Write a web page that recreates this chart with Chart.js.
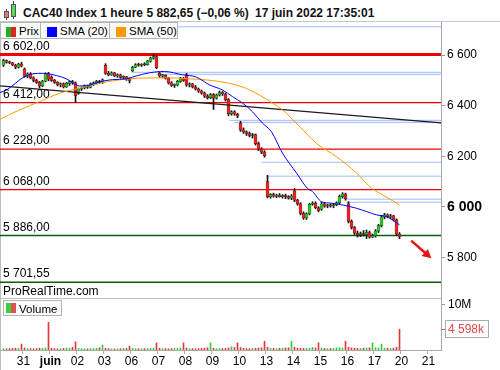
<!DOCTYPE html>
<html>
<head>
<meta charset="utf-8">
<script src="https://cdn.jsdelivr.net/npm/chart.js@4.4.1/dist/chart.umd.min.js"></script>
<style>
  body { margin: 0; background: #fff; font-family: "Liberation Sans", Arial, sans-serif; }
  #wrap { position: relative; width: 500px; height: 370px; overflow: hidden; background: #fff; }
  .abs { position: absolute; }
  #title { left: 0; top: 0; width: 500px; height: 21px; border-bottom: 1px solid #c8c8c8; }
  .t { position: absolute; top: 7px; font-weight: bold; font-size: 12px; line-height: 12px; white-space: nowrap; color: #111; }
  .lg { position: absolute; top: 22px; background: #fafafa; border: 1px solid #b4b4b4; box-sizing: border-box; height: 17px; }
  .lg span { position: absolute; top: 2px; font-size: 11.5px; line-height: 12px; white-space: nowrap; }
  .sq { position: absolute; top: 4px; width: 10px; height: 10px; }
  canvas { position: absolute; left: 0; }
</style>
</head>
<body>
<div id="wrap">
  <div id="title" class="abs">
    <div class="abs" style="left:6px;top:9px;width:1px;height:11px;background:#444"></div>
    <div class="abs" style="left:4px;top:11px;width:3px;height:5px;background:#f07474;border:1px solid #555"></div>
    <div class="abs" style="left:13px;top:1px;width:1px;height:18px;background:#444"></div>
    <div class="abs" style="left:11px;top:4px;width:3px;height:11px;background:#5ad85a;border:1px solid #555"></div>
    <span class="t" style="left:23px">CAC40 Index 1 heure 5 882,65 (−0,06 %)</span>
    <span class="t" style="left:255px">17 juin 2022 17:35:01</span>
  </div>
  <div class="abs" style="left:0;top:22px;width:1px;height:348px;background:#bdbdbd"></div>
  <canvas id="price" width="500" height="276" style="top:22px"></canvas>
  <canvas id="vol" width="500" height="72" style="top:298px"></canvas>
  <div class="abs" style="left:0;top:298px;width:441px;height:1px;background:#bdbdbd"></div>

  <div class="lg" style="left:0;width:41px">
    <div class="sq" style="left:5px;width:5px;background:#22b022"></div>
    <div class="sq" style="left:10px;width:5px;background:#e02424"></div>
    <span style="left:18px">Prix</span>
  </div>
  <div class="lg" style="left:40px;width:70px">
    <div class="sq" style="left:6px;background:#0000ff"></div>
    <span style="left:19px">SMA (20)</span>
  </div>
  <div class="lg" style="left:109px;width:69px">
    <div class="sq" style="left:6px;background:#ff9900"></div>
    <span style="left:19px">SMA (50)</span>
  </div>
  <span class="abs" style="left:3px;top:285px;font-size:12px;line-height:12px">ProRealTime.com</span>
  <div class="lg" style="left:3px;top:300px;width:59px;height:16px">
    <div class="sq" style="left:2px;top:2px;width:5px;background:#3ccc3c"></div>
    <div class="sq" style="left:7px;top:2px;width:5px;background:#e05050"></div>
    <span style="left:15px;top:2px">Volume</span>
  </div>
</div>

<script>
// Bougies horaires CAC40, du 30 mai (fin de séance) au 17 juin 2022
const opens = [
  6560, 6578, 6572, 6569, 6561, 6552, 6565,
  6545, 6516, 6526, 6510, 6500, 6492, 6478, 6497, 6526,
  6512, 6500, 6492, 6482, 6486, 6474, 6488, 6495, 6490,
  6448, 6466, 6470, 6478, 6473, 6486, 6490, 6496, 6492,
  6560, 6528, 6522, 6530, 6518, 6522, 6512, 6514, 6506,
  6538, 6552, 6562, 6560, 6563, 6562, 6576, 6588, 6594,
  6528, 6518, 6520, 6508, 6490, 6480, 6482, 6496, 6508,
  6522, 6482, 6486, 6474, 6466, 6458, 6450, 6438, 6432,
  6444, 6430, 6442, 6452, 6446, 6424, 6368, 6376, 6366,
  6330, 6304, 6296, 6290, 6282, 6286, 6250, 6228, 6216,
  6100, 6040, 6048, 6042, 6046, 6040, 6044, 6040, 6034,
  6062, 6026, 6012, 5974, 5956, 5972, 6010, 6014, 5996,
  5990, 6012, 6002, 6006, 6004, 6008, 6016, 6040, 6050,
  6012, 5942, 5918, 5896, 5890, 5894, 5890, 5898, 5880,
  5886, 5904, 5926, 5960, 5968, 5960, 5964, 5948, 5892
];
const highs = [
  6584, 6581, 6576, 6572, 6564, 6568, 6572,
  6549, 6530, 6531, 6514, 6505, 6496, 6500, 6530, 6532,
  6518, 6504, 6495, 6490, 6490, 6492, 6498, 6500, 6494,
  6470, 6474, 6482, 6482, 6490, 6494, 6500, 6500, 6506,
  6566, 6536, 6534, 6532, 6526, 6525, 6518, 6516, 6510,
  6556, 6566, 6568, 6566, 6570, 6580, 6592, 6602, 6598,
  6532, 6524, 6522, 6512, 6495, 6486, 6500, 6512, 6512,
  6528, 6490, 6488, 6480, 6470, 6462, 6454, 6444, 6448,
  6448, 6446, 6458, 6456, 6450, 6428, 6380, 6380, 6370,
  6338, 6312, 6300, 6296, 6290, 6288, 6256, 6234, 6222,
  6124, 6052, 6054, 6050, 6052, 6048, 6050, 6044, 6048,
  6072, 6030, 6016, 5980, 5976, 6014, 6020, 6020, 6000,
  6018, 6016, 6010, 6012, 6012, 6020, 6046, 6056, 6054,
  6020, 5948, 5922, 5904, 5900, 5906, 5908, 5904, 5892,
  5910, 5930, 5966, 5974, 5972, 5970, 5966, 5952, 5898
];
const lows = [
  6555, 6568, 6566, 6558, 6546, 6549, 6553,
  6512, 6510, 6506, 6494, 6488, 6470, 6475, 6494, 6498,
  6496, 6488, 6478, 6474, 6470, 6472, 6480, 6484, 6412,
  6445, 6460, 6466, 6468, 6470, 6480, 6485, 6488, 6488,
  6524, 6518, 6520, 6514, 6512, 6508, 6506, 6500, 6490,
  6535, 6550, 6556, 6555, 6558, 6560, 6572, 6584, 6546,
  6512, 6510, 6505, 6485, 6476, 6472, 6478, 6492, 6496,
  6476, 6474, 6470, 6462, 6452, 6445, 6432, 6426, 6428,
  6385, 6426, 6438, 6440, 6418, 6360, 6362, 6362, 6352,
  6298, 6290, 6282, 6276, 6272, 6244, 6222, 6210, 6196,
  6035, 6034, 6038, 6036, 6038, 6034, 6032, 6030, 6028,
  6020, 6006, 5968, 5950, 5950, 5968, 6006, 5992, 5980,
  5986, 5998, 5996, 5998, 5996, 6004, 6012, 6034, 6026,
  5936, 5912, 5890, 5880, 5882, 5884, 5874, 5876, 5878,
  5880, 5898, 5920, 5952, 5956, 5952, 5944, 5886, 5874
];
const closes = [
  6578, 6572, 6569, 6561, 6552, 6565, 6556,
  6516, 6526, 6510, 6500, 6492, 6478, 6497, 6526, 6505,
  6500, 6492, 6482, 6486, 6474, 6488, 6495, 6490, 6440,
  6466, 6470, 6478, 6473, 6486, 6490, 6496, 6492, 6502,
  6528, 6522, 6530, 6518, 6522, 6512, 6514, 6506, 6500,
  6552, 6562, 6560, 6563, 6562, 6576, 6588, 6594, 6550,
  6518, 6520, 6508, 6490, 6480, 6482, 6496, 6508, 6500,
  6482, 6486, 6474, 6466, 6458, 6450, 6438, 6432, 6444,
  6430, 6442, 6452, 6446, 6424, 6368, 6376, 6366, 6358,
  6304, 6296, 6290, 6282, 6286, 6250, 6228, 6216, 6202,
  6040, 6048, 6042, 6046, 6040, 6044, 6040, 6034, 6042,
  6026, 6012, 5974, 5956, 5972, 6010, 6014, 5996, 5986,
  6012, 6002, 6006, 6004, 6008, 6016, 6040, 6050, 6032,
  5942, 5918, 5896, 5890, 5894, 5890, 5898, 5880, 5886,
  5904, 5926, 5960, 5968, 5960, 5964, 5948, 5892, 5882.65
];
// volume en millions
const volumes = [
  0.30, 0.25, 0.30, 0.35, 0.40, 0.35, 1.30,
  0.45, 0.30, 0.30, 0.25, 0.30, 0.40, 0.35, 0.45, 6.10,
  0.40, 0.30, 0.25, 0.30, 0.35, 0.45, 0.40, 0.60, 1.80,
  0.35, 0.30, 0.25, 0.25, 0.30, 0.35, 0.40, 0.50, 1.08,
  0.40, 0.30, 0.25, 0.20, 0.25, 0.30, 0.35, 0.35, 0.86,
  0.35, 0.30, 0.25, 0.25, 0.30, 0.30, 0.35, 0.40, 1.57,
  0.40, 0.30, 0.30, 0.25, 0.30, 0.35, 0.40, 0.45, 1.57,
  0.45, 0.30, 0.30, 0.25, 0.30, 0.35, 0.40, 0.50, 1.57,
  0.40, 0.30, 0.30, 0.30, 0.35, 0.45, 0.70, 0.55, 1.57,
  0.55, 0.35, 0.30, 0.30, 0.35, 0.40, 0.45, 0.50, 1.94,
  0.60, 0.40, 0.35, 0.30, 0.35, 0.40, 0.45, 0.50, 1.94,
  0.60, 0.40, 0.40, 0.35, 0.35, 0.40, 0.55, 0.45, 1.57,
  0.45, 0.35, 0.30, 0.30, 0.35, 0.45, 0.50, 0.45, 1.94,
  0.60, 0.45, 0.40, 0.35, 0.35, 0.40, 0.45, 0.50, 1.57,
  0.50, 0.45, 1.30, 0.40, 0.40, 0.35, 0.40, 0.60, 4.598
];

// moyennes mobiles (indice de bougie, valeur)
const sma20X = [-1.17, 1, 7, 9.7, 13, 17.7, 21, 23, 25.3, 27.7, 32, 36.3, 41, 43, 46.3, 51, 53.7, 59.7, 64.3, 68.7, 73, 76.3, 79.7, 83, 86.3, 89.3, 93, 97.7, 101.3, 103, 106, 109.3, 113, 117.7, 121, 124.3, 127.7, 129.7, 132];
const sma20Y = [6452, 6462, 6515, 6526, 6528, 6519, 6506, 6491, 6478, 6479, 6494, 6503, 6506, 6513, 6524, 6534, 6535, 6522, 6513, 6482, 6462, 6436, 6410, 6376, 6331, 6297, 6212, 6133, 6073, 6060, 6020, 6014, 6007, 5994, 5981, 5968, 5961, 5948, 5928];
const sma50X = [-1.17, 5.3, 12, 18.7, 25.3, 32, 38.7, 45.3, 55, 61, 71, 79.7, 85.3, 89.7, 93, 98.7, 104.3, 111, 117.7, 122.7, 125.3, 129.7, 132];
const sma50Y = [6346, 6383, 6416, 6449, 6469, 6489, 6502, 6509, 6510, 6507, 6497, 6474, 6442, 6410, 6383, 6317, 6251, 6198, 6133, 6073, 6054, 6024, 6007];

// oblique et niveaux horizontaux
const trendX = [-1.17, 145.83];
const trendY = [6478, 6332];
const redLevels = [6602, 6412, 6228, 6068];
const greenLevels = [5886, 5701.55];
const blueLevels = [6712, 6532, 6524, 6342, 6334, 6176, 6121, 6030, 6018];
const blueStarts = [-1.17, 42.7, 51, 75.3, 77, 86, 87.7, 113.7, 114.3];
const arrowX = [135.9, 142.6];
const arrowY = [5866, 5796];

// axes
const priceTicks = [5800, 6000, 6200, 6400, 6600];
const volTicks = [4.598, 10];
const volTickLabels = ['4 598k', '10M'];
const dayStarts = [7, 16, 25, 34, 43, 52, 61, 70, 79, 88, 97, 106, 115, 124, 133, 142];
const dayLabels = ['31', 'juin', '02', '03', '06', '07', '08', '09', '10', '13', '14', '15', '16', '17', '20', '21'];

const family = '"Liberation Sans", Arial, sans-serif';
const xMin = -1.17, xMax = 145.83;
const GREEN = '#22cc22', RED = '#f02020';

const fmtThousands = v => String(v).replace(/\B(?=(\d{3})+(?!\d))/g, ' ');
const fmtLevel = v => {
    const [a, b] = v.toFixed(2).split('.');
    return fmtThousands(a) + ',' + b;
};

const idx = closes.map((_, i) => i);
const isUp = i => closes[i] >= opens[i];

// l'axe de droite fait 59px, sans marge pour les libellés extrêmes
function fixAxis(s) {
    s.width = 59;
    s.paddingTop = 0;
    s.paddingBottom = 0;
}

const hline = (v, from, color, width) => ({
    type: 'line',
    data: [{ x: from, y: v }, { x: xMax, y: v }],
    borderColor: color,
    borderWidth: width,
    pointRadius: 0,
    order: 10
});

const levelSets = [
    ...blueLevels.map((v, k) => hline(v, blueStarts[k], '#9db9ff', 1)),
    ...redLevels.map((v, k) => hline(v, xMin, '#ee0000', k === 0 ? 3 : 1.2)),
    ...greenLevels.map(v => hline(v, xMin, '#0b5e0b', 1.5))
];

// textes des niveaux + flèche
const overlay = {
    id: 'overlay',
    beforeDatasetsDraw(chart) {
        const { ctx, scales: { y } } = chart;
        ctx.save();
        ctx.font = '12px ' + family;
        ctx.fillStyle = '#000';
        [...redLevels, ...greenLevels].forEach(v => {
            ctx.fillText(fmtLevel(v), 3, y.getPixelForValue(v) - 5);
        });
        ctx.restore();
    },
    afterDatasetsDraw(chart) {
        const { ctx, scales: { x, y } } = chart;
        const x0 = x.getPixelForValue(arrowX[0]), y0 = y.getPixelForValue(arrowY[0]);
        const x1 = x.getPixelForValue(arrowX[1]), y1 = y.getPixelForValue(arrowY[1]);
        const ang = Math.atan2(y1 - y0, x1 - x0);
        const head = 10;
        ctx.save();
        ctx.strokeStyle = '#ee1111';
        ctx.fillStyle = '#ee1111';
        ctx.lineWidth = 2.5;
        ctx.beginPath();
        ctx.moveTo(x0, y0);
        ctx.lineTo(x1 - Math.cos(ang) * head * 0.8, y1 - Math.sin(ang) * head * 0.8);
        ctx.stroke();
        ctx.beginPath();
        ctx.moveTo(x1, y1);
        ctx.lineTo(x1 - head * Math.cos(ang - 0.5), y1 - head * Math.sin(ang - 0.5));
        ctx.lineTo(x1 - head * Math.cos(ang + 0.5), y1 - head * Math.sin(ang + 0.5));
        ctx.closePath();
        ctx.fill();
        ctx.restore();
    }
};

new Chart(document.getElementById('price'), {
    type: 'bar',
    data: {
        datasets: [
            ...levelSets,
            {
                type: 'bar',
                data: idx.map(i => ({ x: i, y: [lows[i], highs[i]] })),
                backgroundColor: '#111',
                barThickness: 1,
                grouped: false,
                order: 7
            },
            {
                type: 'bar',
                data: idx.map(i => ({ x: i, y: [opens[i], closes[i]] })),
                backgroundColor: idx.map(i => isUp(i) ? GREEN : RED),
                borderColor: '#222',
                borderWidth: 0.5,
                borderSkipped: false,
                barThickness: 3,
                minBarLength: 1,
                grouped: false,
                order: 6
            },
            {
                type: 'line',
                data: trendX.map((v, k) => ({ x: v, y: trendY[k] })),
                borderColor: '#1a1a1a',
                borderWidth: 1.3,
                pointRadius: 0,
                order: 3
            },
            {
                type: 'line',
                data: sma50X.map((v, k) => ({ x: v, y: sma50Y[k] })),
                borderColor: '#ff9900',
                borderWidth: 1,
                pointRadius: 0,
                cubicInterpolationMode: 'monotone',
                order: 2
            },
            {
                type: 'line',
                data: sma20X.map((v, k) => ({ x: v, y: sma20Y[k] })),
                borderColor: '#0000ff',
                borderWidth: 1,
                pointRadius: 0,
                cubicInterpolationMode: 'monotone',
                order: 1
            }
        ]
    },
    options: {
        responsive: false,
        animation: false,
        layout: { padding: 0 },
        plugins: { legend: { display: false }, tooltip: { enabled: false } },
        scales: {
            x: { type: 'linear', min: xMin, max: xMax, display: false, offset: false },
            y: {
                position: 'right',
                min: 5639,
                max: 6731,
                afterFit: fixAxis,
                afterBuildTicks(s) { s.ticks = priceTicks.map(v => ({ value: v })); },
                ticks: {
                    padding: 2,
                    color: '#000',
                    callback: v => fmtThousands(v),
                    font: c => (c.tick && c.tick.value === 6000)
                        ? { family, size: 14, weight: 'bold' }
                        : { family, size: 12 }
                },
                grid: { drawOnChartArea: false, drawTicks: true, tickLength: 4, color: '#999' },
                border: { display: true, color: '#aaa' }
            }
        }
    },
    plugins: [overlay]
});

// axe des dates sous le volume + encadré du dernier volume
const volAxis = {
    id: 'volAxis',
    afterDraw(chart) {
        const { ctx, chartArea: a, scales: { x, y } } = chart;
        ctx.save();
        ctx.strokeStyle = '#aaa';
        ctx.lineWidth = 1;
        ctx.beginPath();
        ctx.moveTo(0, a.bottom + 0.5);
        ctx.lineTo(a.right, a.bottom + 0.5);
        ctx.stroke();
        ctx.fillStyle = '#000';
        ctx.textAlign = 'center';
        dayStarts.forEach((d, k) => {
            const tx = Math.round(x.getPixelForValue(d - 1)) + 0.5;
            ctx.beginPath();
            ctx.moveTo(tx, a.bottom);
            ctx.lineTo(tx, a.bottom + 4);
            ctx.stroke();
            ctx.font = (dayLabels[k] === 'juin' ? 'bold ' : '') + '12px ' + family;
            ctx.fillText(dayLabels[k], x.getPixelForValue(d) - 1, a.bottom + 15);
        });
        const yy = Math.round(y.getPixelForValue(volTicks[0]));
        ctx.strokeStyle = '#aaa';
        ctx.strokeRect(a.right + 4.5, yy - 8.5, 43, 17);
        ctx.restore();
    }
};

new Chart(document.getElementById('vol'), {
    type: 'bar',
    data: {
        datasets: [{
            data: idx.map(i => ({ x: i, y: volumes[i] })),
            backgroundColor: idx.map(i => isUp(i) ? '#33cc33' : '#e03838'),
            barThickness: 1,
            grouped: false
        }]
    },
    options: {
        responsive: false,
        animation: false,
        layout: { padding: { bottom: 20 } },
        plugins: { legend: { display: false }, tooltip: { enabled: false } },
        scales: {
            x: { type: 'linear', min: xMin, max: xMax, display: false, offset: false },
            y: {
                position: 'right',
                min: 0,
                max: 11.5,
                afterFit: fixAxis,
                afterBuildTicks(s) { s.ticks = volTicks.map(v => ({ value: v })); },
                ticks: {
                    padding: 3,
                    font: { family, size: 12 },
                    color: c => c.index === 0 ? '#e04848' : '#000',
                    callback: (v, k) => volTickLabels[k]
                },
                grid: {
                    drawOnChartArea: false,
                    tickLength: 4,
                    color: c => c.index === 0 ? '#e04848' : '#999'
                },
                border: { display: true, color: '#aaa' }
            }
        }
    },
    plugins: [volAxis]
});
</script>
</body>
</html>
